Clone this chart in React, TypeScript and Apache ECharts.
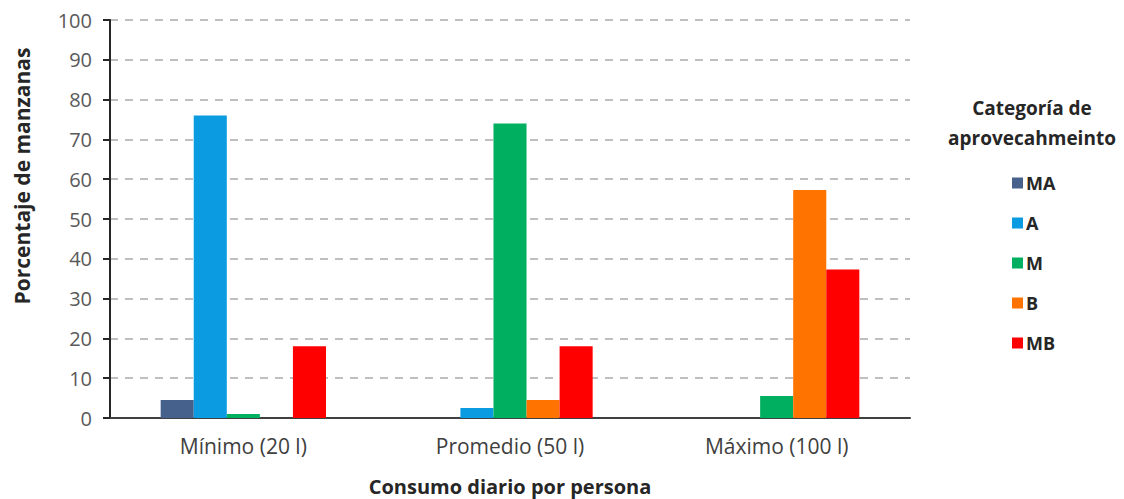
import React, { useEffect, useRef } from "react";
import * as echarts from "echarts";

const categories = ["Mínimo (20 l)", "Promedio (50 l)", "Máximo (100 l)"];
const seriesNames = ["MA", "A", "M", "B", "MB"];
const valuesMA = [4.5, 0, 0];
const valuesA = [76, 2.5, 0];
const valuesM = [1, 74, 5.5];
const valuesB = [0, 4.5, 57.3];
const valuesMB = [18, 18, 37.3];
const colors = ["#46628c", "#0a9be0", "#00b060", "#ff7300", "#ff0000"];
const yTicks = { min: 0, max: 100, interval: 10 };
const yTitle = "Porcentaje de manzanas";
const xTitle = "Consumo diario por persona";

export default function App() {
  const ref = useRef<HTMLDivElement>(null);
  useEffect(() => {
    if (!ref.current) return;
    const chart = echarts.init(ref.current, null, { renderer: "svg" });
    const allValues = [valuesMA, valuesA, valuesM, valuesB, valuesMB];
    const font = "'Open Sans', sans-serif";
    chart.setOption({
      animation: false,
      backgroundColor: "#ffffff",
      textStyle: { fontFamily: font },
      title: {
        text: "Categoría de\naprovecahmeinto",
        left: 1032,
        top: 93,
        padding: 0,
        textAlign: "center",
        textStyle: {
          fontFamily: font,
          fontSize: 19,
          fontWeight: "bold",
          color: "#262626",
          lineHeight: 30,
          align: "center",
        },
      },
      graphic: [
        {
          type: "text",
          x: 22,
          y: 176,
          rotation: Math.PI / 2,
          style: {
            text: yTitle,
            font: "bold 21px 'Open Sans', sans-serif",
            fill: "#262626",
            textAlign: "center",
            textVerticalAlign: "middle",
          },
        },
      ],
      legend: {
        orient: "vertical",
        left: 1012,
        top: 174,
        padding: 0,
        itemWidth: 11,
        itemHeight: 11,
        itemGap: 22,
        icon: "rect",
        data: seriesNames,
        textStyle: { fontFamily: font, fontSize: 18, fontWeight: "bold", color: "#262626", padding: [0, 0, 0, -2] },
      },
      grid: { left: 110, right: 214, top: 20, bottom: 81, containLabel: false, outerBoundsMode: "none" },
      xAxis: {
        type: "category",
        data: categories,
        name: xTitle,
        nameLocation: "middle",
        nameGap: 58,
        nameTextStyle: { fontFamily: font, fontSize: 20, fontWeight: "bold", color: "#262626" },
        axisLine: { lineStyle: { color: "#404040", width: 2 } },
        axisTick: { show: false },
        axisLabel: { fontFamily: font, fontSize: 21, color: "#404040", margin: 17 },
      },
      yAxis: {
        type: "value",
        min: yTicks.min,
        max: yTicks.max,
        interval: yTicks.interval,
        axisLine: { show: true, lineStyle: { color: "#262626", width: 2 } },
        axisTick: { show: true, length: 7, lineStyle: { color: "#262626", width: 2 } },
        axisLabel: { fontFamily: font, fontSize: 20, color: "#595959", margin: 18 },
        splitLine: { show: true, lineStyle: { color: "#bfbfbf", width: 2, type: [8, 7] } },
      },
      series: seriesNames.map((name, i) => ({
        name,
        type: "bar",
        data: allValues[i],
        barGap: "0%",
        barCategoryGap: "38%",
        itemStyle: { color: colors[i] },
      })),
    });
    return () => chart.dispose();
  }, []);
  return <div ref={ref} style={{ position: "absolute", left: 0, top: 0, width: 1124, height: 499 }} />;
}
